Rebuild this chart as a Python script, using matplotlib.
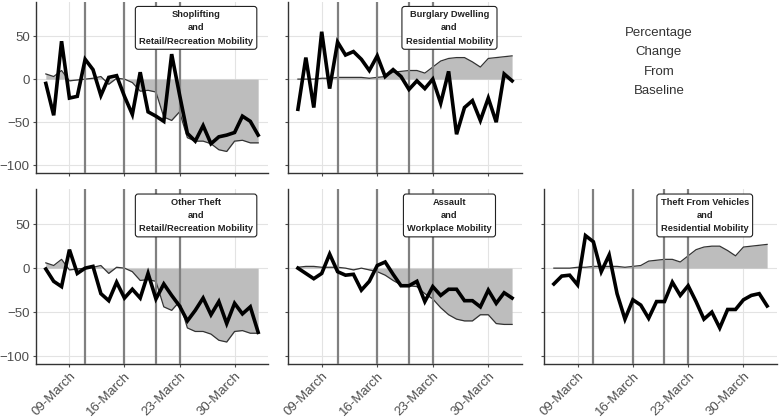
import numpy as np
import pandas as pd
import matplotlib
matplotlib.use("Agg")
import matplotlib.pyplot as plt
import matplotlib.dates as mdates

plt.rcParams['font.family'] = ['Liberation Sans', 'DejaVu Sans']

# daily values, 06-March to 02-April 2020
dates = pd.date_range('2020-03-06', periods=28)
events = pd.to_datetime(['2020-03-11', '2020-03-16', '2020-03-20', '2020-03-23'])
tick_dates = pd.to_datetime(['2020-03-09', '2020-03-16', '2020-03-23', '2020-03-30'])

# mobility (percentage change from baseline)
retail_mob = [6, 3, 10, -2, -1, 0, 1, 3, -6, 1, 0, -4, -14, -13, -15, -44,
              -48, -38, -68, -72, -72, -75, -82, -84, -72, -71, -74, -74]
resid_mob = [0, 0, 0, 1, 1, 2, 2, 2, 2, 1, 2, 3, 8, 9, 10, 10,
             7, 14, 21, 24, 25, 25, 20, 14, 24, 25, 26, 27]
work_mob = [1, 2, 2, 1, 1, 1, 0, -2, 0, -2, -4, -8, -14, -19, -20, -21,
            -29, -35, -45, -53, -58, -60, -60, -53, -53, -63, -64, -64]

# crime (percentage change from baseline)
shoplifting = [-5, -42, 44, -22, -20, 23, 11, -19, 2, 4, -20, -41, 8, -38,
               -43, -49, 29, -18, -63, -72, -54, -75, -67, -65, -62, -43, -49, -65]
burglary = [-35, 25, -33, 55, -11, 43, 28, 32, 23, 10, 27, 3, 11, 3,
            -12, -2, -11, 0, -28, 9, -64, -33, -25, -48, -22, -50, 6, -2]
other_theft = [-1, -15, -21, 21, -6, 0, 2, -29, -37, -16, -34, -24, -34, -6,
               -35, -18, -31, -43, -60, -48, -34, -53, -38, -63, -40, -52, -44, -73]
assault = [0, -6, -12, -6, 16, -4, -8, -7, -25, -15, 3, 7, -7, -20,
           -20, -15, -38, -21, -31, -24, -24, -37, -37, -44, -25, -40, -28, -34]
vehicle_theft = [-18, -9, -8, -19, 37, 30, -4, 15, -29, -58, -36, -42, -57, -38,
                 -38, -16, -31, -20, -38, -58, -50, -68, -47, -47, -36, -31, -29, -43]

titles = ['Shoplifting\nand\nRetail/Recreation Mobility',
          'Burglary Dwelling\nand\nResidential Mobility',
          'Other Theft\nand\nRetail/Recreation Mobility',
          'Assault\nand\nWorkplace Mobility',
          'Theft From Vehicles\nand\nResidential Mobility']

panels = [
    (shoplifting, retail_mob, titles[0], 0, 0),
    (burglary, resid_mob, titles[1], 0, 1),
    (other_theft, retail_mob, titles[2], 1, 0),
    (assault, work_mob, titles[3], 1, 1),
    (vehicle_theft, resid_mob, titles[4], 1, 2),
]

W, H = 784, 420
fig = plt.figure(figsize=(W / 100, H / 100), dpi=100)

col_x = [(36, 268), (288, 522), (544, 777)]
row_y = [(1.6, 173), (189, 364)]

for crime, mob, title, r, c in panels:
    x0, x1 = col_x[c]
    y0, y1 = row_y[r]
    ax = fig.add_axes([x0 / W, 1 - y1 / H, (x1 - x0) / W, (y1 - y0) / H])

    ax.fill_between(dates, mob, 0, color='#bdbdbd', lw=0, zorder=1)
    ax.plot(dates, mob, color='#333333', lw=0.9, zorder=2)
    for e in events:
        ax.axvline(e, color='#808080', lw=1.6, zorder=3)
    ax.plot(dates, crime, color='black', lw=2.6, zorder=4,
            solid_joinstyle='miter')

    ax.set_xlim(dates[0] - pd.Timedelta(hours=30), dates[-1] + pd.Timedelta(hours=30))
    ax.set_ylim(-109, 90)
    ax.set_yticks([-100, -50, 0, 50])
    ax.set_xticks(tick_dates)
    ax.xaxis.set_major_formatter(mdates.DateFormatter('%d-%B'))
    ax.grid(True, color='#e3e3e3', lw=0.8, zorder=0)
    ax.set_axisbelow(True)
    for s in ['top', 'right']:
        ax.spines[s].set_visible(False)
    for s in ['left', 'bottom']:
        ax.spines[s].set_color('#333333')
        ax.spines[s].set_linewidth(1.0)
    ax.tick_params(colors='#4d4d4d', labelsize=9.5, length=2.5, width=0.8,
                   pad=2)

    if c != 0:
        ax.set_yticklabels([])
    if r == 0:
        ax.set_xticklabels([])
    else:
        plt.setp(ax.get_xticklabels(), rotation=45, ha='right',
                 rotation_mode='anchor')

    ax.text(0.69, 0.95, title, transform=ax.transAxes, ha='center', va='top',
            fontsize=6.7, fontweight='bold', color='#222222', linespacing=1.6,
            zorder=6,
            bbox=dict(boxstyle='round,pad=0.4,rounding_size=0.3',
                      fc='white', ec='#222222', lw=0.8))

fig.text(659 / W, 1 - 62 / H, 'Percentage\nChange\nFrom\nBaseline',
         ha='center', va='center', fontsize=9.5, color='#333333',
         linespacing=1.85)

fig.savefig('out.png', dpi=100)
